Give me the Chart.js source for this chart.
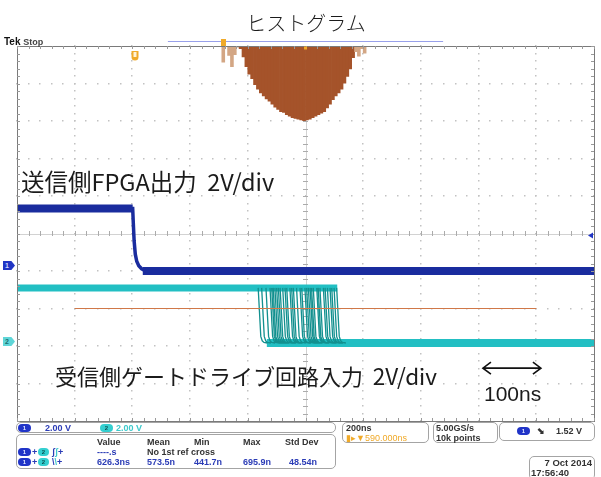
<!DOCTYPE html>
<html><head><meta charset="utf-8">
<script src="https://cdn.jsdelivr.net/npm/chart.js@4.4.1/dist/chart.umd.min.js"></script>
<style>
html,body{margin:0;padding:0;background:#fff;}
#wrap{position:relative;width:601px;height:477px;overflow:hidden;background:#fff;font-family:"Liberation Sans",Arial,sans-serif;}
canvas{position:absolute;left:0;top:0;}
.t{position:absolute;white-space:nowrap;}
.jp{font-family:"Noto Sans CJK JP","Noto Sans",sans-serif;color:#1b1b1b;}
.box{position:absolute;border:1px solid #a4a4a4;border-radius:5px;box-sizing:border-box;}
.s{position:absolute;white-space:nowrap;font-size:9px;font-weight:bold;line-height:10px;}
.pill{position:absolute;width:13px;height:8px;border-radius:5px;background:#2034c8;color:#dfe4ff;font:bold 6px/8px "Liberation Sans",Arial,sans-serif;text-align:center;}
.pc{background:#34cfd0;color:#0d4f50;}
.bl{color:#2b3cb6;}
.cy{color:#3cc9cb;}
.dk{color:#333;}
.or{color:#f0aa2a;}
</style></head><body>
<div id="wrap">
<canvas id="c" width="601" height="477"></canvas>

<div class="t" style="left:4px;top:36px;font:bold 10px/11px 'Liberation Sans',Arial,sans-serif;color:#111;">Tek <span style="color:#444;font-size:9px;">Stop</span></div>
<div class="t jp" style="left:0;width:612px;text-align:center;top:10px;font-size:20px;line-height:26px;font-weight:300;">ヒストグラム</div>
<div class="t jp" style="left:21px;top:166px;font-size:23.5px;line-height:30px;">送信側FPGA出力&nbsp;&nbsp;2V/div</div>
<div class="t jp" style="left:55px;top:361px;font-size:22px;line-height:28px;">受信側ゲートドライブ回路入力&nbsp;&nbsp;<span style="font-size:22.5px;">2V/div</span></div>
<div class="t" style="left:484px;top:382px;font-size:21px;line-height:24px;color:#1b1b1b;">100ns</div>

<!-- channel ground markers -->
<div class="t" style="left:3px;top:261px;width:12px;height:9px;background:#2136c4;clip-path:polygon(0 0,70% 0,100% 50%,70% 100%,0 100%);color:#cfd6ff;font:bold 7px/9px 'Liberation Sans',Arial;text-indent:2px;">1</div>
<div class="t" style="left:3px;top:337px;width:12px;height:9px;background:#5fd6d8;clip-path:polygon(0 0,70% 0,100% 50%,70% 100%,0 100%);color:#1b6e70;font:bold 7px/9px 'Liberation Sans',Arial;text-indent:2px;">2</div>

<!-- bottom readouts -->
<div class="box" style="left:16px;top:422px;width:320px;height:11px;"></div>
<div class="pill" style="left:18px;top:423.5px;">1</div>
<div class="s bl" style="left:45px;top:422.5px;" id="ch1scale"></div>
<div class="pill pc" style="left:100px;top:423.5px;">2</div>
<div class="s cy" style="left:116px;top:422.5px;" id="ch2scale"></div>

<div class="box" style="left:16px;top:434px;width:320px;height:35px;"></div>
<div id="meas"></div>

<div class="box" style="left:342px;top:422px;width:87px;height:21px;"></div>
<div class="s dk" style="left:346px;top:422.5px;" id="tbase"></div>
<div class="s or" style="left:346px;top:432.5px;font-weight:normal;" id="tpos"></div>

<div class="box" style="left:433px;top:422px;width:65px;height:21px;"></div>
<div class="s dk" style="left:436px;top:422.5px;" id="srate"></div>
<div class="s dk" style="left:436px;top:432.5px;" id="rlen"></div>

<div class="box" style="left:499px;top:422px;width:96px;height:19px;"></div>
<div class="pill" style="left:517px;top:427px;">1</div>
<div class="s dk" style="left:537px;top:426px;">⬊</div>
<div class="s dk" style="left:556px;top:426px;" id="trig"></div>

<div class="box" style="left:529px;top:456px;width:66px;height:24px;"></div>
<div class="s dk" style="left:531px;top:457.5px;width:61px;text-align:right;font-size:9.5px;" id="date"></div>
<div class="s dk" style="left:531px;top:467.5px;font-size:9.5px;" id="clock"></div>
</div>

<script>
// ---------------- data ----------------
// horizontal: 200 ns/div, 10 divisions -> time in ns across the screen
const timeSpan = [0, 2000];
const gridTimes = [0, 200, 400, 600, 800, 1000, 1200, 1400, 1600, 1800, 2000];
// vertical: levels in divisions (2 V/div), screen is -5..+5 div
const levelSpan = [-5, 5];
const gridLevels = [-5, -4, -3, -2, -1, 0, 1, 2, 3, 4, 5];

// CH1 : transmitter FPGA output (falling edge)
const ch1Time  = [0, 401, 403, 406, 410, 415, 422, 432, 446, 2000];
const ch1Level = [0.67, 0.67, 0.3, -0.2, -0.55, -0.74, -0.86, -0.94, -1.0, -1.0];
const ch1HighSpan = [0, 401];
const ch1LowSpan  = [436, 2000];
const ch1HighLevel = 0.67, ch1LowLevel = -1.0;

// CH2 : receiver gate-drive input, persistence of many falling edges
const ch2HighLevel = -1.45;
const ch2LowLevel  = -2.92;
const ch2HighSpan  = [0, 1110];
const ch2LowSpan   = [866, 2000];
const ch2EdgeTimes = [836, 848, 863, 877, 883, 888, 894, 900, 906, 912, 921, 929, 935, 946, 952, 958, 969,
                      981, 987, 998, 1004, 1010, 1016, 1021, 1027, 1039, 1044, 1050, 1062, 1068, 1076, 1085,
                      1091, 1099, 1108];
// shape of one falling edge: time after edge start (ns) and fraction of the swing
const edgeShapeDt   = [0, 9, 14, 20, 32];
const edgeShapeFrac = [0, 0.88, 0.96, 0.99, 1];

// reference level (orange)
const refLevel = -2.0;
const refSpan  = [200, 1800];

// histogram of edge positions (10 ns bins, hits)
const histBins   = [710, 720, 730, 740, 750, 760, 770, 780, 790, 800, 810, 820, 830, 840, 850, 860, 870,
                    880, 890, 900, 910, 920, 930, 940, 950, 960, 970, 980, 990, 1000, 1010, 1020, 1030,
                    1040, 1050, 1060, 1070, 1080, 1090, 1100, 1110, 1120, 1130, 1140, 1150, 1160, 1170,
                    1180, 1190, 1200, 1210];
const histCounts = [22, 0, 13, 28, 12, 2, 4, 15, 28, 38, 44, 52, 58, 63, 67, 71, 74,
                    78, 82, 85, 88, 89, 92, 94, 96, 97, 98, 99, 100, 99, 98, 96, 94,
                    92, 90, 88, 83, 78, 72, 67, 63, 58, 50, 41, 31, 16, 8,
                    14, 4, 10, 0];
const histScaleMax = 500;
const histWindow = [523, 1477];

// markers / annotations
const triggerTime = 409;
const expandTime = 714;
const triggerLevel = -0.05;
const arrowSpan = [1615, 1816];
const arrowLevel = -3.59;

// readouts
const ch1Scale = '2.00 V', ch2Scale = '2.00 V';
const measHeaders = ['Value', 'Mean', 'Min', 'Max', 'Std Dev'];
const measRow1 = ['----.s', 'No 1st ref cross'];
const measRow2 = ['626.3ns', '573.5n', '441.7n', '695.9n', '48.54n'];
const timeBase = '200ns', timePos = '▮▸▼590.000ns';
const sampleRate = '5.00GS/s', recordLen = '10k points';
const trigText = '1.52 V';
const dateText = '7 Oct  2014', clockText = '17:56:40';

// ---------------- readout text ----------------
document.getElementById('ch1scale').textContent = ch1Scale;
document.getElementById('ch2scale').textContent = ch2Scale;
document.getElementById('tbase').textContent = timeBase;
document.getElementById('tpos').textContent = timePos;
document.getElementById('srate').textContent = sampleRate;
document.getElementById('rlen').textContent = recordLen;
document.getElementById('trig').textContent = trigText;
document.getElementById('date').textContent = dateText;
document.getElementById('clock').textContent = clockText;
(function(){
  const cols = [97, 147, 194, 243, 289];
  const m = document.getElementById('meas');
  let h = '';
  measHeaders.forEach((t,i)=>{ h += `<div class="s dk" style="left:${cols[i]-(i===4?4:0)}px;top:436.5px;">${t}</div>`; });
  h += `<div class="pill" style="left:18px;top:448px;">1</div><div class="s bl" style="left:32px;top:446.5px;">+</div><div class="pill pc" style="left:38px;top:448px;width:11px;">2</div><div class="s bl" style="left:52px;top:446.5px;">ʃ<span class="cy">ʃ</span>+</div>`;
  h += `<div class="s bl" style="left:${cols[0]}px;top:446.5px;">${measRow1[0]}</div><div class="s dk" style="left:${cols[1]}px;top:446.5px;">${measRow1[1]}</div>`;
  h += `<div class="pill" style="left:18px;top:458px;">1</div><div class="s bl" style="left:32px;top:456.5px;">+</div><div class="pill pc" style="left:38px;top:458px;width:11px;">2</div><div class="s bl" style="left:52px;top:456.5px;">\\<span class="cy">\\</span>+</div>`;
  measRow2.forEach((t,i)=>{ h += `<div class="s bl" style="left:${cols[i]}px;top:456.5px;">${t}</div>`; });
  m.innerHTML = h;
})();

// ---------------- datasets ----------------
const ch1Data = ch1Time.map((t,i)=>({x:t, y:ch1Level[i]}));
const edgeData = [];
ch2EdgeTimes.forEach(t=>{
  edgeShapeDt.forEach((d,i)=>edgeData.push({x:t+d, y:ch2HighLevel+(ch2LowLevel-ch2HighLevel)*edgeShapeFrac[i]}));
  edgeData.push({x:t+edgeShapeDt[edgeShapeDt.length-1]+0.5, y:null});
});
const histData = histBins.map((b,i)=>({x:b+5, y:histCounts[i]}));
const histColors = histBins.map(b => (b < 770 || b >= 1170) ? '#d3a684' : '#a5532a');

// ---------------- plugins ----------------
const tekGrid = {
  id:'tekGrid',
  beforeDatasetsDraw(chart){
    const {ctx, chartArea:a, scales:{x, y}} = chart;
    ctx.save();
    const xs = gridTimes.map(t=>x.getPixelForValue(t));
    const ys = gridLevels.map(v=>y.getPixelForValue(v));
    const dxm = (xs[1]-xs[0])/5, dym = (ys[0]-ys[1])/5;
    // dotted division lines
    ctx.fillStyle = '#c2c2c2';
    xs.forEach((px,i)=>{ if(i===0||i===xs.length-1||i===5) return;
      for(let k=0;k<=50;k++){ const py=a.top+k*dym; ctx.fillRect(Math.round(px)-1,Math.round(py)-1,1.5,1.5); } });
    ys.forEach((py,i)=>{ if(i===0||i===ys.length-1||i===5) return;
      for(let k=0;k<=50;k++){ const px=a.left+k*dxm; ctx.fillRect(Math.round(px)-1,Math.round(py)-1,1.5,1.5); } });
    // centre cross
    const cx = xs[5], cy = ys[5];
    ctx.strokeStyle = '#d2d2d2'; ctx.lineWidth = 1;
    ctx.beginPath(); ctx.moveTo(a.left, Math.round(cy)+0.5); ctx.lineTo(a.right, Math.round(cy)+0.5);
    ctx.moveTo(Math.round(cx)+0.5, a.top); ctx.lineTo(Math.round(cx)+0.5, a.bottom); ctx.stroke();
    ctx.strokeStyle = '#ababab';
    ctx.beginPath();
    for(let k=0;k<=50;k++){ const px=Math.round(a.left+k*dxm)+0.5; ctx.moveTo(px,cy-2.5); ctx.lineTo(px,cy+2.5); }
    for(let k=0;k<=50;k++){ const py=Math.round(a.top+k*dym)+0.5; ctx.moveTo(cx-2.5,py); ctx.lineTo(cx+2.5,py); }
    ctx.stroke();
    ctx.restore();
  },
  afterDatasetsDraw(chart){
    const {ctx, chartArea:a, scales:{x, y}} = chart;
    const xs = gridTimes.map(t=>x.getPixelForValue(t));
    const ys = gridLevels.map(v=>y.getPixelForValue(v));
    const dxm = (xs[1]-xs[0])/5, dym = (ys[0]-ys[1])/5;
    ctx.save();
    // frame with ticks
    ctx.strokeStyle = '#7a7a7a'; ctx.lineWidth = 1;
    ctx.strokeRect(Math.round(a.left)+0.5, Math.round(a.top)+0.5, Math.round(a.right-a.left), Math.round(a.bottom-a.top));
    ctx.strokeStyle = '#9a9a9a';
    ctx.beginPath();
    for(let k=0;k<=50;k++){ const px=Math.round(a.left+k*dxm)+0.5;
      ctx.moveTo(px,a.top); ctx.lineTo(px,a.top+3); ctx.moveTo(px,a.bottom); ctx.lineTo(px,a.bottom-3); }
    for(let k=0;k<=50;k++){ const py=Math.round(a.top+k*dym)+0.5;
      ctx.moveTo(a.left,py); ctx.lineTo(a.left+3,py); ctx.moveTo(a.right,py); ctx.lineTo(a.right-3,py); }
    ctx.stroke();
    // histogram window line
    ctx.strokeStyle = '#98a0ea'; ctx.lineWidth = 1.2;
    ctx.beginPath(); ctx.moveTo(x.getPixelForValue(histWindow[0]), a.top-4.5); ctx.lineTo(x.getPixelForValue(histWindow[1]), a.top-4.5); ctx.stroke();
    // expand point marker
    ctx.fillStyle = '#f0aa2a';
    const ex = x.getPixelForValue(expandTime);
    ctx.fillRect(ex-2, a.top-7, 5, 7);
    ctx.fillRect(x.getPixelForValue(1000)-1.5, a.top+0.5, 3, 3);
    // trigger position marker
    const tx = x.getPixelForValue(triggerTime);
    ctx.beginPath(); ctx.moveTo(tx-3.5, a.top+5); ctx.lineTo(tx+3.5, a.top+5); ctx.lineTo(tx+3.5, a.top+11);
    ctx.arc(tx, a.top+11, 3.5, 0, Math.PI); ctx.closePath(); ctx.fill();
    ctx.fillStyle = '#fff3d8'; ctx.fillRect(tx-1.5, a.top+6, 3, 5);
    // trigger level marker
    ctx.fillStyle = '#2136c4';
    const ty = y.getPixelForValue(triggerLevel);
    ctx.beginPath(); ctx.moveTo(a.right-1, ty-3); ctx.lineTo(a.right-1, ty+3); ctx.lineTo(a.right-6, ty); ctx.closePath(); ctx.fill();
    // 100 ns double arrow
    const ax0 = x.getPixelForValue(arrowSpan[0]), ax1 = x.getPixelForValue(arrowSpan[1]), ay = y.getPixelForValue(arrowLevel);
    ctx.strokeStyle = '#111'; ctx.lineWidth = 1.6;
    ctx.beginPath(); ctx.moveTo(ax0, ay); ctx.lineTo(ax1, ay);
    ctx.moveTo(ax0+8, ay-6); ctx.lineTo(ax0, ay); ctx.lineTo(ax0+8, ay+6);
    ctx.moveTo(ax1-8, ay-6); ctx.lineTo(ax1, ay); ctx.lineTo(ax1-8, ay+6);
    ctx.stroke();
    ctx.restore();
  }
};

new Chart(document.getElementById('c'), {
  type: 'line',
  data: {
    datasets: [
      { label:'CH1', data: ch1Data, borderColor:'#1a2c9e', borderWidth:3.5, pointRadius:0, tension:0, order:1 },
      { label:'CH1 high', data: ch1HighSpan.map(t=>({x:t, y:ch1HighLevel})), borderColor:'#1a2c9e', borderWidth:8, borderCapStyle:'butt', pointRadius:0, order:1 },
      { label:'CH1 low', data: ch1LowSpan.map(t=>({x:t, y:ch1LowLevel})), borderColor:'#1a2c9e', borderWidth:8, borderCapStyle:'butt', pointRadius:0, order:1 },
      { label:'Ref', data: refSpan.map(t=>({x:t, y:refLevel})), borderColor:'#d07848', borderWidth:1.2, pointRadius:0, order:2 },
      { label:'CH2 edges', data: edgeData, borderColor:'#12908f', borderWidth:1.3, pointRadius:0, tension:0, spanGaps:false, order:3 },
      { label:'CH2 high', data: ch2HighSpan.map(t=>({x:t, y:ch2HighLevel})), borderColor:'#22bfc3', borderWidth:7, pointRadius:0, order:4 },
      { label:'CH2 low', data: ch2LowSpan.map(t=>({x:t, y:ch2LowLevel})), borderColor:'#22bfc3', borderWidth:8, pointRadius:0, order:4 },
      { type:'bar', label:'Histogram', data: histData, yAxisID:'yh', backgroundColor: histColors, borderWidth:0,
        barPercentage:1.25, categoryPercentage:1, order:5 }
    ]
  },
  options: {
    responsive:false, animation:false, devicePixelRatio:1,
    layout:{ padding:{ left:17, top:46, right:7, bottom:56 } },
    plugins:{ legend:{display:false}, tooltip:{enabled:false}, title:{display:false} },
    scales:{
      x:{ type:'linear', min:timeSpan[0], max:timeSpan[1], display:false, offset:false },
      y:{ type:'linear', min:levelSpan[0], max:levelSpan[1], display:false },
      yh:{ type:'linear', min:0, max:histScaleMax, reverse:true, display:false }
    }
  },
  plugins:[tekGrid]
});
</script>
</body></html>
